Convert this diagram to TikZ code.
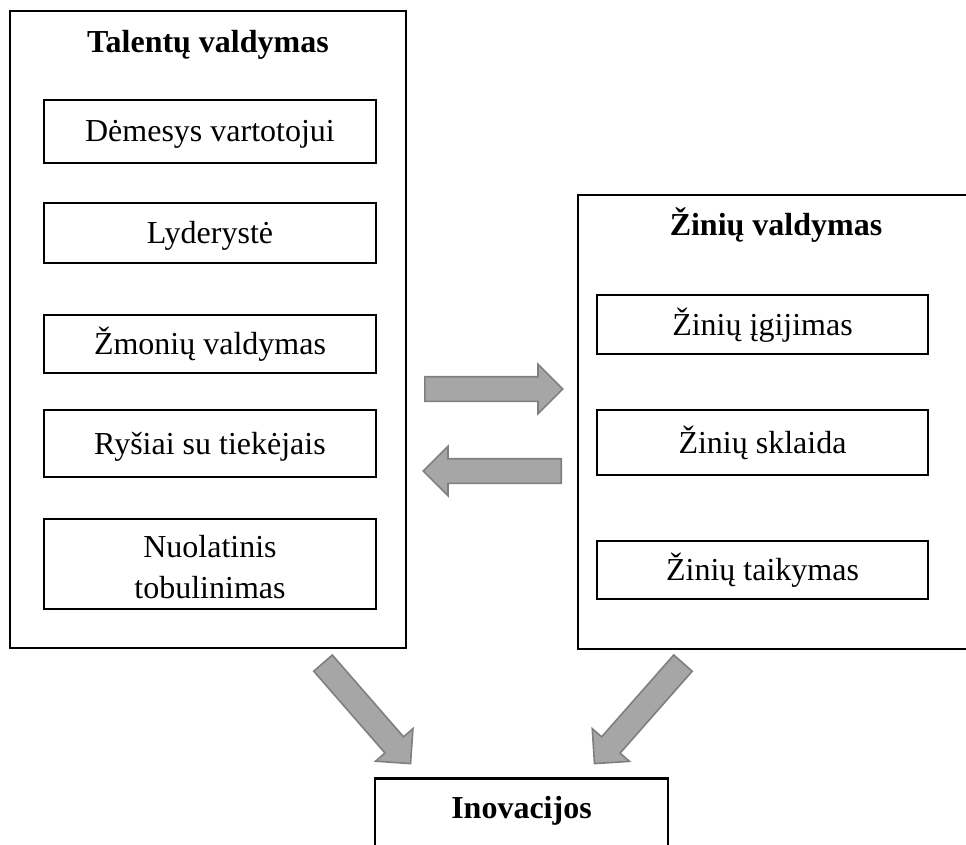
\documentclass[tikz,border=0pt]{standalone}
\usepackage{fontspec}
\setmainfont{Liberation Serif}
\usetikzlibrary{shapes.arrows,calc}
\definecolor{arrowfill}{HTML}{A6A6A6}
\definecolor{arrowline}{HTML}{7F7F7F}

% block arrow drawn from one named point to another
\newcommand\blockarrowfromto[2]{%
  \path let \p1=($(#2)-(#1)$), \n1={atan2(\y1,\x1)}, \n2={veclen(\x1,\y1)} in
    node[blockarrow, minimum height=\n2, rotate=\n1, anchor=tail] at (#1) {};}

\begin{document}
\begin{tikzpicture}[x=1pt,y=-1pt,
  panel/.style={draw=black, line width=2.8pt, rectangle, inner sep=0pt},
  itembox/.style={draw=black, line width=2.8pt, rectangle, inner sep=0pt,
    align=center, font=\fontsize{32}{41}\selectfont},
  oneline/.style={text height=21pt, text depth=0pt},
  heading/.style={font=\fontsize{32}{39}\selectfont\bfseries, inner sep=0pt, anchor=base},
  blockarrow/.style={single arrow, draw=arrowline, fill=arrowfill, line width=1.6pt,
    inner xsep=0pt, inner ysep=11.5pt, single arrow head extend=12.5pt,
    single arrow tip angle=90}]
\clip (0,0) rectangle (966,845);

% talent management panel
\node[panel, minimum width=396pt, minimum height=637pt] (tal) at (208,329.5) {};
\node[heading] (taltitle) at (208,53) {Talentų valdymas};
\node[itembox, oneline, minimum width=332pt, minimum height=63pt] (t1) at (210,131.5) {Dėmesys vartotojui};
\node[itembox, oneline, minimum width=332pt, minimum height=60pt] (t2) at (210,233) {Lyderystė};
\node[itembox, oneline, minimum width=332pt, minimum height=58pt] (t3) at (210,344) {Žmonių valdymas};
\node[itembox, oneline, minimum width=332pt, minimum height=67pt] (t4) at (210,443.5) {Ryšiai su tiekėjais};
\node[itembox, minimum width=332pt, minimum height=90pt] (t5) at (210,564) {\rule{0pt}{29pt}Nuolatinis\\tobulinimas};

% knowledge management panel
\node[panel, minimum width=396pt, minimum height=454pt] (zin) at (776,422) {};
\node[heading] (zintitle) at (776,236) {Žinių valdymas};
\node[itembox, oneline, minimum width=331pt, minimum height=59pt] (k1) at (762.5,324.5) {Žinių įgijimas};
\node[itembox, oneline, minimum width=331pt, minimum height=65pt] (k2) at (762.5,442.5) {Žinių sklaida};
\node[itembox, oneline, minimum width=331pt, minimum height=58pt] (k3) at (762.5,570) {Žinių taikymas};

% innovation box
\node[panel, minimum width=293pt, minimum height=110pt, anchor=north] (inov) at (521.5,777) {};
\node[heading] (inovtitle) at (521.5,818) {Inovacijos};

% arrow end points
\coordinate (h1s) at (424,389);
\coordinate (h1e) at (562,389);
\coordinate (h2s) at (562,471);
\coordinate (h2e) at (424,471);
\coordinate (d1s) at (322.5,662.5);
\coordinate (d1e) at (410,763);
\coordinate (d2s) at (683.5,662.5);
\coordinate (d2e) at (595,763);

\blockarrowfromto{h1s}{h1e}
\blockarrowfromto{h2s}{h2e}
\blockarrowfromto{d1s}{d1e}
\blockarrowfromto{d2s}{d2e}
\end{tikzpicture}
\end{document}
